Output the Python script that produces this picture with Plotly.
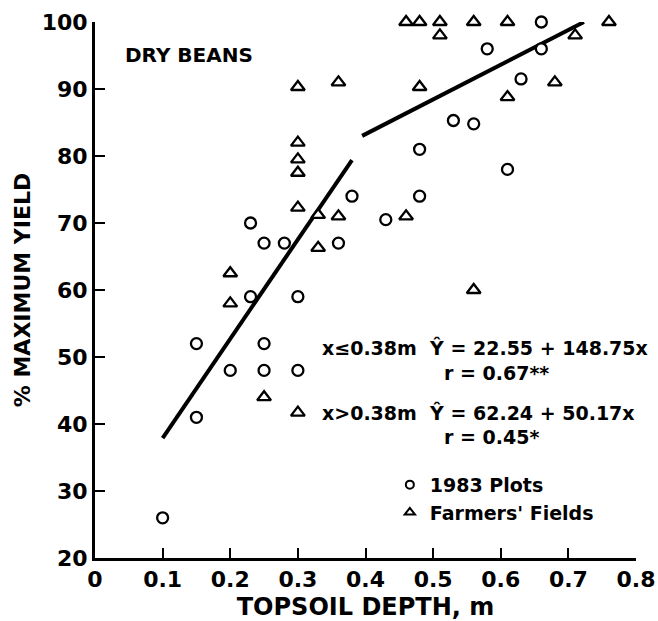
import plotly.graph_objects as go

# ---- data ----
plots_x = [0.10, 0.15, 0.15, 0.20, 0.25, 0.25, 0.30, 0.23, 0.25, 0.28, 0.23, 0.30,
           0.38, 0.43, 0.36, 0.48, 0.48, 0.53, 0.56, 0.61, 0.63, 0.58, 0.66, 0.66]
plots_y = [26, 52, 41, 48, 52, 48, 48, 70, 67, 67, 59, 59,
           74, 70.5, 67, 74, 81, 85.3, 84.8, 78, 91.5, 96, 96, 100]

fields_x = [0.30, 0.30, 0.30, 0.30, 0.30, 0.33, 0.33, 0.20, 0.20, 0.25, 0.30,
            0.36, 0.36, 0.46, 0.48, 0.46, 0.48, 0.51, 0.51, 0.56, 0.61, 0.71,
            0.76, 0.61, 0.68, 0.56]
fields_y = [90.3, 82, 79.5, 77.5, 72.3, 71.2, 66.3, 62.5, 58, 44, 41.7,
            91, 71, 71, 90.3, 100, 100, 100, 98, 100, 100, 98,
            100, 88.8, 91, 60]

fit1_x = [0.10, 0.38]
fit1_y = [37.9, 79.4]
fit2_x = [0.395, 0.723]
fit2_y = [83.0, 100.0]

x_ticks = [0, 0.1, 0.2, 0.3, 0.4, 0.5, 0.6, 0.7, 0.8]
x_tick_labels = ["0", "0.1", "0.2", "0.3", "0.4", "0.5", "0.6", "0.7", "0.8"]
y_ticks = [20, 30, 40, 50, 60, 70, 80, 90, 100]

FONT = "DejaVu Sans"

fig = go.Figure()

for fx, fy in ((fit1_x, fit1_y), (fit2_x, fit2_y)):
    fig.add_trace(go.Scatter(x=fx, y=fy, mode="lines",
                             line=dict(color="black", width=4),
                             showlegend=False, hoverinfo="skip"))

fig.add_trace(go.Scatter(x=plots_x, y=plots_y, mode="markers", name="1983 Plots",
                         marker=dict(symbol="circle", size=11, color="white",
                                     line=dict(color="black", width=2.3)),
                         showlegend=False, cliponaxis=False))
fig.add_trace(go.Scatter(x=fields_x, y=fields_y, mode="markers", name="Farmers' Fields",
                         marker=dict(symbol="triangle-up", size=12, color="white",
                                     line=dict(color="black", width=2.3)),
                         showlegend=False, cliponaxis=False))

# legend-only entries (smaller symbols as in the reference key)
fig.add_trace(go.Scatter(x=[None], y=[None], mode="markers", name="1983 Plots",
                         marker=dict(symbol="circle", size=8, color="white",
                                     line=dict(color="black", width=2))))
fig.add_trace(go.Scatter(x=[None], y=[None], mode="markers", name="Farmers' Fields",
                         marker=dict(symbol="triangle-up", size=9, color="white",
                                     line=dict(color="black", width=2))))

axis_common = dict(showline=True, linecolor="black", linewidth=3, ticks="inside",
                   ticklen=10, tickwidth=2, tickcolor="black", showgrid=False,
                   zeroline=False, mirror=False, automargin=False,
                   tickfont=dict(family=FONT, size=22, color="black", weight="bold"))

fig.update_layout(
    width=658, height=621, autosize=False,
    margin=dict(l=95, r=22, t=22, b=63),
    paper_bgcolor="white", plot_bgcolor="white",
    xaxis=dict(range=[0, 0.8], tickvals=x_ticks, ticktext=x_tick_labels,
               title=dict(text="TOPSOIL DEPTH, m", standoff=17,
                          font=dict(family=FONT, size=24, color="black", weight="bold")),
               **axis_common),
    yaxis=dict(range=[20, 100], tickvals=y_ticks,
               title=dict(text="% MAXIMUM YIELD", standoff=5,
                          font=dict(family=FONT, size=22, color="black", weight="bold")),
               **axis_common),
    legend=dict(x=0.545, y=0.172, xanchor="left", yanchor="top",
                bgcolor="rgba(0,0,0,0)", tracegroupgap=0, itemsizing="trace",
                font=dict(family=FONT, size=19, color="black", weight="bold")),
    showlegend=True,
)

ann_font = dict(family=FONT, size=19, color="black", weight="bold")
annotations = [
    dict(text="DRY BEANS", x=0.052, y=0.938, font=dict(family=FONT, size=20, color="black", weight="bold")),
    dict(text="x≤0.38m  Ŷ = 22.55 + 148.75x", x=0.416, y=0.392, font=ann_font),
    dict(text="r = 0.67**", x=0.641, y=0.346, font=ann_font),
    dict(text="x>0.38m  Ŷ = 62.24 + 50.17x", x=0.416, y=0.272, font=ann_font),
    dict(text="r = 0.45*", x=0.641, y=0.226, font=ann_font),
]
for a in annotations:
    fig.add_annotation(xref="paper", yref="paper", xanchor="left", yanchor="middle",
                       showarrow=False, **a)

fig.write_html("out.html",
               config={"displayModeBar": False},
               post_script="document.body.style.margin='0';"
                           "document.documentElement.style.overflow='hidden';")
